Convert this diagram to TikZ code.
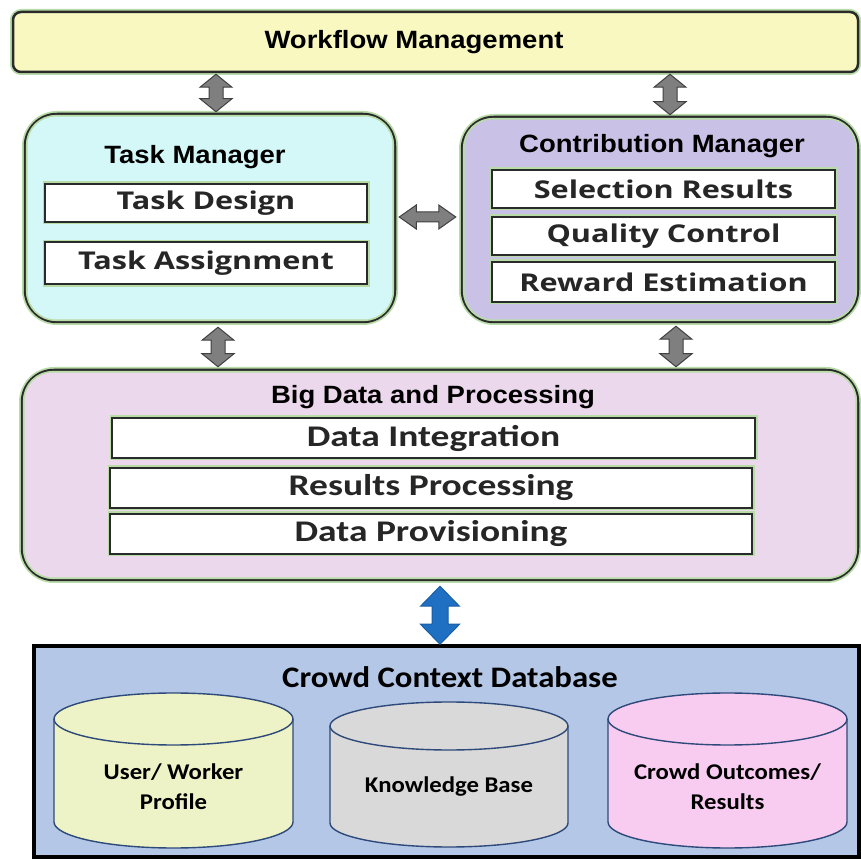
\documentclass[tikz,border=0pt]{standalone}
\usepackage{fontspec}
\setmainfont{Liberation Sans}[FakeStretch=1.1]
\newfontfamily\boxfont{Open Sans}[FakeStretch=1.25]
\newfontfamily\calfont{Carlito}[FakeStretch=1.1]
\newfontfamily\calwide{Carlito}[FakeStretch=1.25]
\usetikzlibrary{calc}
\definecolor{wfyellow}{HTML}{F8F8C0}
\definecolor{tmcyan}{HTML}{D4F8F8}
\definecolor{cmlav}{HTML}{CAC2E6}
\definecolor{bdpink}{HTML}{ECD8EC}
\definecolor{dbblue}{HTML}{B4C7E7}
\definecolor{cylgreen}{HTML}{EDF3C6}
\definecolor{cylgray}{HTML}{D9D9D9}
\definecolor{cylpink}{HTML}{F8CCF0}
\definecolor{cylline}{HTML}{2E4A7A}
\definecolor{halo}{HTML}{B8DCA8}
\definecolor{edge}{HTML}{2A2A2A}
\definecolor{arrgray}{HTML}{7F7F7F}
\definecolor{arrblue}{HTML}{1F6FC2}
\begin{document}
\begin{tikzpicture}[x=1pt,y=1pt,
  bigbox/.style={draw=edge, line width=2.5pt, rounded corners=32pt,
    preaction={draw=halo, line width=6pt}},
  inbox/.style={draw=edge, fill=white, line width=2pt,
    preaction={draw=halo, line width=5pt}},
  ring/.style={draw=halo, line width=1.6pt},
  title/.style={font=\fontsize{25}{30}\selectfont\bfseries, inner sep=0pt},
  intext/.style={font=\boxfont\fontsize{24.5}{29}\selectfont\bfseries, text=black!85},
  bdtext/.style={font=\calwide\fontsize{30}{34}\selectfont\bfseries, text=black!85},
  cyl/.style={draw=cylline, line width=1.4pt},
  cyltext/.style={font=\calfont\fontsize{22.5}{30}\selectfont\bfseries, align=center},
  garrow/.style={draw=black!75, fill=arrgray, line width=1pt},
  barrow/.style={draw=arrblue!85!black, fill=arrblue, line width=1pt},
  vfat/.style n args={3}{to path={let \p1=(\tikztostart),\p2=(\tikztotarget) in
    (\x1,\y1) -- (\x1+#1,\y1-#3) -- (\x1+#2,\y1-#3) -- (\x1+#2,\y2+#3) -- (\x1+#1,\y2+#3)
    -- (\x1,\y2) -- (\x1-#1,\y2+#3) -- (\x1-#2,\y2+#3) -- (\x1-#2,\y1-#3) -- (\x1-#1,\y1-#3) -- cycle}},
  hfat/.style n args={3}{to path={let \p1=(\tikztostart),\p2=(\tikztotarget) in
    (\x1,\y1) -- (\x1+#3,\y1+#1) -- (\x1+#3,\y1+#2) -- (\x2-#3,\y1+#2) -- (\x2-#3,\y1+#1)
    -- (\x2,\y1) -- (\x2-#3,\y1-#1) -- (\x2-#3,\y1-#2) -- (\x1+#3,\y1-#2) -- (\x1+#3,\y1-#1) -- cycle}}
]
\useasboundingbox (0,0) rectangle (860,860);
\fill[white] (0,0) rectangle (860,860);

% Workflow management
\node[draw=edge, line width=2.5pt, rounded corners=8pt, fill=wfyellow,
  preaction={draw=halo, line width=6pt},
  minimum width=845pt, minimum height=60pt] (wf) at (435.5,818) {};
\node[title] (wft) at (414,818) {Workflow Management};

% Task manager
\node[bigbox, fill=tmcyan, minimum width=370pt, minimum height=208pt] (tm) at (210,642) {};
\draw[ring, rounded corners=29pt] ([shift={(3pt,3pt)}]tm.south west) rectangle ([shift={(-3pt,-3pt)}]tm.north east);
\node[title] (tmt) at (195,703) {Task Manager};
\node[inbox, minimum width=322pt, minimum height=38pt, intext] (td) at (206,657) {Task Design};
\node[inbox, minimum width=322pt, minimum height=42pt, intext] (ta) at (206,596.5) {Task Assignment};

% Contribution manager
\node[bigbox, fill=cmlav, minimum width=396pt, minimum height=205pt] (cm) at (660,640.5) {};
\draw[ring, rounded corners=29pt] ([shift={(3pt,3pt)}]cm.south west) rectangle ([shift={(-3pt,-3pt)}]cm.north east);
\node[title] (cmt) at (662,714) {Contribution Manager};
\node[inbox, minimum width=343pt, minimum height=38pt, intext] (sr) at (663.5,671) {Selection Results};
\node[inbox, minimum width=343pt, minimum height=38pt, intext] (qc) at (663.5,624) {Quality Control};
\node[inbox, minimum width=343pt, minimum height=40pt, intext] (re) at (663.5,578) {Reward Estimation};

% Big data
\node[bigbox, fill=bdpink, minimum width=836pt, minimum height=210pt] (bd) at (440,385) {};
\draw[ring, rounded corners=29pt] ([shift={(3pt,3pt)}]bd.south west) rectangle ([shift={(-3pt,-3pt)}]bd.north east);
\node[title] (bdt) at (433,463) {Big Data and Processing};
\node[inbox, minimum width=643pt, minimum height=40pt, bdtext] (di) at (433.5,422) {Data Integration};
\node[inbox, minimum width=642pt, minimum height=40pt, bdtext] (rp) at (431,372) {Results Processing};
\node[inbox, minimum width=642pt, minimum height=40pt, bdtext] (dp) at (431,326) {Data Provisioning};

% Crowd context database
\node[draw=black, line width=3.5pt, fill=dbblue, minimum width=825pt, minimum height=211pt] (db) at (446.5,108.5) {};
\node[font=\calfont\fontsize{29.8}{34}\selectfont\bfseries, inner sep=0pt] (dbt) at (450,183) {Crowd Context Database};

% cylinders
\filldraw[cyl, fill=cylgreen] (54,141) -- (54,38) arc[start angle=180,end angle=360,x radius=119.5pt,y radius=26pt]
  -- (293,141) arc[start angle=0,end angle=180,x radius=119.5pt,y radius=26pt] -- cycle;
\draw[cyl] (54,141) arc[start angle=180,end angle=360,x radius=119.5pt,y radius=26pt];
\node[cyltext] (uw) at (173.5,73) {User/ Worker\\Profile};

\filldraw[cyl, fill=cylgray] (330,134) -- (330,37) arc[start angle=180,end angle=360,x radius=119pt,y radius=24pt]
  -- (568,134) arc[start angle=0,end angle=180,x radius=119pt,y radius=24pt] -- cycle;
\draw[cyl] (330,134) arc[start angle=180,end angle=360,x radius=119pt,y radius=24pt];
\node[cyltext] (kb) at (449,73) {Knowledge Base};

\filldraw[cyl, fill=cylpink] (608,141) -- (608,38) arc[start angle=180,end angle=360,x radius=119.5pt,y radius=26pt]
  -- (847,141) arc[start angle=0,end angle=180,x radius=119.5pt,y radius=26pt] -- cycle;
\draw[cyl] (608,141) arc[start angle=180,end angle=360,x radius=119.5pt,y radius=26pt];
\node[cyltext] (co) at (727.5,73) {Crowd Outcomes/\\Results};

% connectors
\coordinate (xa) at (216,0);
\coordinate (xb) at (670,0);
\coordinate (xc) at (218,0);
\coordinate (xd) at (676,0);
\coordinate (xe) at (440,0);
\coordinate (yh) at (0,643);
\path[garrow] ([yshift=-1pt]wf.south -| xa) to[vfat={16pt}{7pt}{13pt}] ([yshift=1pt]tm.north -| xa);
\path[garrow] ([yshift=-1pt]wf.south -| xb) to[vfat={16pt}{7pt}{13pt}] ([yshift=1pt]cm.north -| xb);
\path[garrow] ([yshift=-4pt]tm.south -| xc) to[vfat={16pt}{7pt}{13pt}] ([yshift=2pt]bd.north -| xc);
\path[garrow] ([yshift=-3pt]cm.south -| xd) to[vfat={16pt}{7pt}{13pt}] ([yshift=2pt]bd.north -| xd);
\path[garrow] ([xshift=3pt]tm.east |- yh) to[hfat={12pt}{5pt}{17pt}] ([xshift=-5pt]cm.west |- yh);
\path[barrow] ([yshift=-5pt]bd.south -| xe) to[vfat={19.5pt}{8pt}{20pt}] (db.north -| xe);
\end{tikzpicture}
\end{document}
